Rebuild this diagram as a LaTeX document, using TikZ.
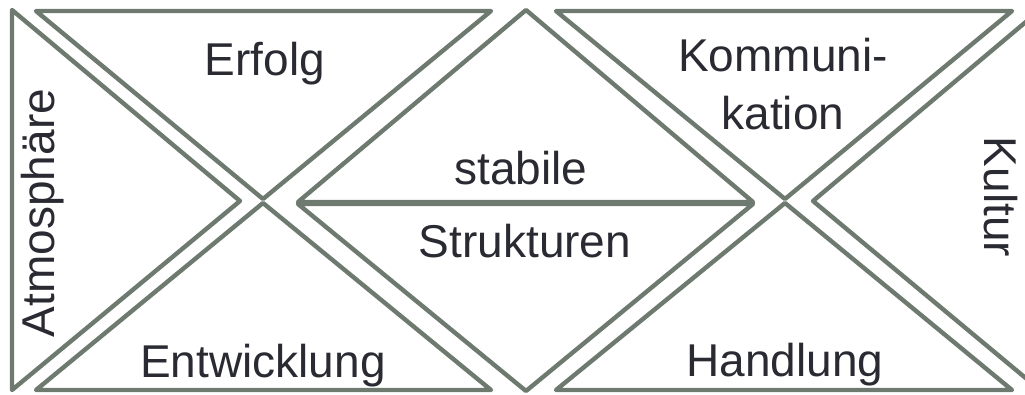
\documentclass[tikz,border=0pt]{standalone}
\usepackage{fontspec}
\setmainfont{Liberation Sans}
\definecolor{edge}{HTML}{6E7A70}
\definecolor{ink}{HTML}{2A2A33}
\begin{document}
\begin{tikzpicture}[x=1pt,y=-1pt,
  tri/.style={draw=edge,line width=4.4pt,line join=round},
  lbl/.style={text=ink,font=\fontsize{46}{56}\selectfont,inner sep=0pt,anchor=base}]
\useasboundingbox (0,0) rectangle (1025,395);
\clip (0,0) rectangle (1025,395);
% left
\draw[tri] (12,10) -- (240,201) -- (12,390) -- cycle;
% top-left and bottom-left
\draw[tri] (36,11) -- (491,11) -- (263,199) -- cycle;
\draw[tri] (36,390) -- (491,390) -- (263,203) -- cycle;
% middle
\draw[tri] (298,202) -- (526,10) -- (753,202) -- cycle;
\draw[tri] (298,204) -- (753,204) -- (526,391) -- cycle;
% top-right and bottom-right
\draw[tri] (556,11) -- (1012,11) -- (785,199) -- cycle;
\draw[tri] (556,390) -- (1012,390) -- (785,203) -- cycle;
% right
\draw[tri] (1040,10) -- (813,201) -- (1040,390) -- cycle;
% labels
\node[lbl] (erfolg) at (265,76) {Erfolg};
\node[lbl] (entw) at (263,377) {Entwicklung};
\node[lbl] (stab) at (521,185) {stabile};
\node[lbl] (strukt) at (525,258) {Strukturen};
\node[lbl] (komm) at (783,72) {Kommuni-};
\node[lbl] (kat) at (783,130) {kation};
\node[lbl] (hand) at (785,376) {Handlung};
\node[lbl,rotate=90] (atmo) at (54,213) {Atmosphäre};
\node[lbl,rotate=-90] (kult) at (984,197) {Kultur};
\end{tikzpicture}
\end{document}
